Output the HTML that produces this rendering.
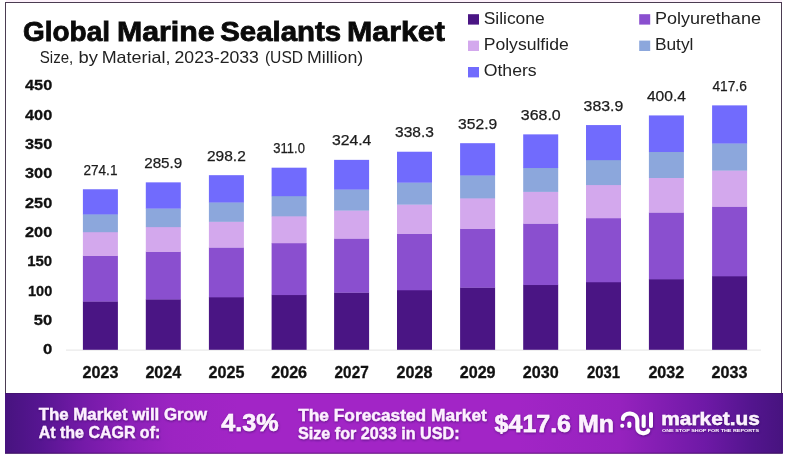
<!DOCTYPE html>
<html><head><meta charset="utf-8"><title>Global Marine Sealants Market</title>
<style>html,body{margin:0;padding:0;background:#fff;}svg{display:block}text{font-family:"Liberation Sans",sans-serif;}</style>
</head><body>
<svg width="786" height="459" viewBox="0 0 786 459">
<defs>
<linearGradient id="fg" x1="0" y1="0" x2="1" y2="0"><stop offset="0" stop-color="#47137f"/><stop offset="0.045" stop-color="#561591"/><stop offset="0.1" stop-color="#741aa8"/><stop offset="0.16" stop-color="#8c20b8"/><stop offset="0.215" stop-color="#9c24c2"/><stop offset="0.3" stop-color="#a225c6"/><stop offset="0.66" stop-color="#a225c6"/><stop offset="0.79" stop-color="#9622be"/><stop offset="0.9" stop-color="#6e19a6"/><stop offset="0.96" stop-color="#53158e"/><stop offset="1" stop-color="#47137f"/></linearGradient>
<filter id="sh" x="-5%" y="-20%" width="110%" height="150%"><feDropShadow dx="0.4" dy="1" stdDeviation="0.8" flood-color="#2a0050" flood-opacity="0.55"/></filter>
<filter id="soft" x="0" y="0" width="100%" height="100%" filterUnits="userSpaceOnUse" color-interpolation-filters="sRGB"><feGaussianBlur stdDeviation="0.42"/></filter>
</defs>
<rect x="0" y="0" width="786" height="459" fill="#ffffff"/>
<g filter="url(#soft)">
<rect x="0" y="0" width="786" height="459" fill="#ffffff"/>
<rect x="6" y="0" width="776" height="2" fill="#fdf1fb"/>
<rect x="5.5" y="2.5" width="776" height="450.5" fill="none" stroke="#4b3c52" stroke-width="1"/>
<g font-size="27" font-weight="700" fill="#0a0a0a" stroke="#0a0a0a" stroke-width="0.8">
<text x="23.0" y="40.6" textLength="87" lengthAdjust="spacingAndGlyphs" >Global</text>
<text x="117" y="40.6" textLength="97.6" lengthAdjust="spacingAndGlyphs" >Marine</text>
<text x="220.2" y="40.6" textLength="121" lengthAdjust="spacingAndGlyphs" >Sealants</text>
<text x="347" y="40.6" textLength="97.8" lengthAdjust="spacingAndGlyphs" >Market</text>
</g>
<g font-size="16.5" fill="#222">
<text x="39.8" y="63.3" textLength="33.5" lengthAdjust="spacingAndGlyphs" >Size,</text>
<text x="78.5" y="63.3" textLength="19.4" lengthAdjust="spacingAndGlyphs" >by</text>
<text x="101.7" y="63.3" textLength="68.7" lengthAdjust="spacingAndGlyphs" >Material,</text>
<text x="174.5" y="63.3" textLength="84.4" lengthAdjust="spacingAndGlyphs" >2023-2033</text>
<text x="264.9" y="63.3" textLength="38.2" lengthAdjust="spacingAndGlyphs" >(USD</text>
<text x="306.9" y="63.3" textLength="56.3" lengthAdjust="spacingAndGlyphs" >Million)</text>
</g>
<g font-size="16" fill="#222">
<rect x="468" y="14.2" width="11" height="10.4" fill="#4a1584"/>
<text x="483.7" y="24.3" textLength="61.0" lengthAdjust="spacingAndGlyphs" >Silicone</text>
<rect x="639.2" y="14.2" width="11" height="10.4" fill="#8a4fcf"/>
<text x="654.9" y="24.3" textLength="106.0" lengthAdjust="spacingAndGlyphs" >Polyurethane</text>
<rect x="468" y="40.6" width="11" height="10.4" fill="#d3a8ed"/>
<text x="483.7" y="49.9" textLength="85.0" lengthAdjust="spacingAndGlyphs" >Polysulfide</text>
<rect x="639.2" y="40.6" width="11" height="10.4" fill="#8ca7dc"/>
<text x="654.9" y="49.9" textLength="38.5" lengthAdjust="spacingAndGlyphs" >Butyl</text>
<rect x="468" y="67" width="11" height="10.4" fill="#716bfd"/>
<text x="483.7" y="76.3" textLength="53.0" lengthAdjust="spacingAndGlyphs" >Others</text>
</g>
<g font-size="15.4" font-weight="700" fill="#111" stroke="#111" stroke-width="0.3">
<text x="42.9" y="354.4" textLength="9.3" lengthAdjust="spacingAndGlyphs" >0</text>
<text x="33.8" y="325.1" textLength="18.4" lengthAdjust="spacingAndGlyphs" >50</text>
<text x="28.0" y="295.7" textLength="24.2" lengthAdjust="spacingAndGlyphs" >100</text>
<text x="27.2" y="266.4" textLength="25.0" lengthAdjust="spacingAndGlyphs" >150</text>
<text x="25.0" y="237.1" textLength="27.2" lengthAdjust="spacingAndGlyphs" >200</text>
<text x="25.0" y="207.8" textLength="27.2" lengthAdjust="spacingAndGlyphs" >250</text>
<text x="25.0" y="178.4" textLength="27.2" lengthAdjust="spacingAndGlyphs" >300</text>
<text x="25.0" y="149.1" textLength="27.2" lengthAdjust="spacingAndGlyphs" >350</text>
<text x="25.0" y="119.8" textLength="27.2" lengthAdjust="spacingAndGlyphs" >400</text>
<text x="25.0" y="90.4" textLength="27.2" lengthAdjust="spacingAndGlyphs" >450</text>
</g>
<line x1="66" y1="350.1" x2="761" y2="350.1" stroke="#e4e4e4" stroke-width="1"/>
<rect x="82.9" y="301.27" width="35.0" height="48.53" fill="#4a1584"/>
<rect x="82.9" y="255.60" width="35.0" height="45.97" fill="#8a4fcf"/>
<rect x="82.9" y="231.88" width="35.0" height="24.02" fill="#d3a8ed"/>
<rect x="82.9" y="214.10" width="35.0" height="18.09" fill="#8ca7dc"/>
<rect x="82.9" y="189.26" width="35.0" height="25.14" fill="#716bfd"/>
<text x="83.4" y="174.8" font-size="15.2" fill="#1c1c1c" stroke="#1c1c1c" stroke-width="0.25" textLength="34.1" lengthAdjust="spacingAndGlyphs">274.1</text>
<text x="82.5" y="378" font-size="15.8" font-weight="700" fill="#111" stroke="#111" stroke-width="0.3" textLength="35.9" lengthAdjust="spacingAndGlyphs">2023</text>
<rect x="145.8" y="299.19" width="35.0" height="50.61" fill="#4a1584"/>
<rect x="145.8" y="251.56" width="35.0" height="47.93" fill="#8a4fcf"/>
<rect x="145.8" y="226.82" width="35.0" height="25.04" fill="#d3a8ed"/>
<rect x="145.8" y="208.27" width="35.0" height="18.85" fill="#8ca7dc"/>
<rect x="145.8" y="182.36" width="35.0" height="26.21" fill="#716bfd"/>
<text x="144.2" y="167.9" font-size="15.2" fill="#1c1c1c" stroke="#1c1c1c" stroke-width="0.25" textLength="38.1" lengthAdjust="spacingAndGlyphs">285.9</text>
<text x="145.4" y="378" font-size="15.8" font-weight="700" fill="#111" stroke="#111" stroke-width="0.3" textLength="35.9" lengthAdjust="spacingAndGlyphs">2024</text>
<rect x="208.9" y="297.03" width="35.0" height="52.77" fill="#4a1584"/>
<rect x="208.9" y="247.34" width="35.0" height="49.98" fill="#8a4fcf"/>
<rect x="208.9" y="221.54" width="35.0" height="26.10" fill="#d3a8ed"/>
<rect x="208.9" y="202.19" width="35.0" height="19.65" fill="#8ca7dc"/>
<rect x="208.9" y="175.17" width="35.0" height="27.32" fill="#716bfd"/>
<text x="207.0" y="160.7" font-size="15.2" fill="#1c1c1c" stroke="#1c1c1c" stroke-width="0.25" textLength="38.8" lengthAdjust="spacingAndGlyphs">298.2</text>
<text x="208.5" y="378" font-size="15.8" font-weight="700" fill="#111" stroke="#111" stroke-width="0.3" textLength="35.9" lengthAdjust="spacingAndGlyphs">2025</text>
<rect x="271.6" y="294.78" width="35.0" height="55.02" fill="#4a1584"/>
<rect x="271.6" y="242.96" width="35.0" height="52.12" fill="#8a4fcf"/>
<rect x="271.6" y="216.05" width="35.0" height="27.21" fill="#d3a8ed"/>
<rect x="271.6" y="195.87" width="35.0" height="20.48" fill="#8ca7dc"/>
<rect x="271.6" y="167.69" width="35.0" height="28.48" fill="#716bfd"/>
<text x="273.3" y="153.2" font-size="15.2" fill="#1c1c1c" stroke="#1c1c1c" stroke-width="0.25" textLength="31.6" lengthAdjust="spacingAndGlyphs">311.0</text>
<text x="271.2" y="378" font-size="15.8" font-weight="700" fill="#111" stroke="#111" stroke-width="0.3" textLength="35.9" lengthAdjust="spacingAndGlyphs">2026</text>
<rect x="334.1" y="292.42" width="35.0" height="57.38" fill="#4a1584"/>
<rect x="334.1" y="238.37" width="35.0" height="54.35" fill="#8a4fcf"/>
<rect x="334.1" y="210.30" width="35.0" height="28.37" fill="#d3a8ed"/>
<rect x="334.1" y="189.25" width="35.0" height="21.35" fill="#8ca7dc"/>
<rect x="334.1" y="159.86" width="35.0" height="29.69" fill="#716bfd"/>
<text x="331.9" y="145.4" font-size="15.2" fill="#1c1c1c" stroke="#1c1c1c" stroke-width="0.25" textLength="39.5" lengthAdjust="spacingAndGlyphs">324.4</text>
<text x="334.6" y="378" font-size="15.8" font-weight="700" fill="#111" stroke="#111" stroke-width="0.3" textLength="34.1" lengthAdjust="spacingAndGlyphs">2027</text>
<rect x="397.0" y="289.97" width="35.0" height="59.83" fill="#4a1584"/>
<rect x="397.0" y="233.61" width="35.0" height="56.66" fill="#8a4fcf"/>
<rect x="397.0" y="204.34" width="35.0" height="29.57" fill="#d3a8ed"/>
<rect x="397.0" y="182.38" width="35.0" height="22.25" fill="#8ca7dc"/>
<rect x="397.0" y="151.73" width="35.0" height="30.95" fill="#716bfd"/>
<text x="395.1" y="137.2" font-size="15.2" fill="#1c1c1c" stroke="#1c1c1c" stroke-width="0.25" textLength="38.8" lengthAdjust="spacingAndGlyphs">338.3</text>
<text x="396.6" y="378" font-size="15.8" font-weight="700" fill="#111" stroke="#111" stroke-width="0.3" textLength="35.9" lengthAdjust="spacingAndGlyphs">2028</text>
<rect x="460.1" y="287.40" width="35.0" height="62.40" fill="#4a1584"/>
<rect x="460.1" y="228.61" width="35.0" height="59.10" fill="#8a4fcf"/>
<rect x="460.1" y="198.07" width="35.0" height="30.83" fill="#d3a8ed"/>
<rect x="460.1" y="175.17" width="35.0" height="23.20" fill="#8ca7dc"/>
<rect x="460.1" y="143.19" width="35.0" height="32.28" fill="#716bfd"/>
<text x="458.1" y="128.7" font-size="15.2" fill="#1c1c1c" stroke="#1c1c1c" stroke-width="0.25" textLength="39.1" lengthAdjust="spacingAndGlyphs">352.9</text>
<text x="459.7" y="378" font-size="15.8" font-weight="700" fill="#111" stroke="#111" stroke-width="0.3" textLength="35.9" lengthAdjust="spacingAndGlyphs">2029</text>
<rect x="523.2" y="284.75" width="35.0" height="65.05" fill="#4a1584"/>
<rect x="523.2" y="223.43" width="35.0" height="61.61" fill="#8a4fcf"/>
<rect x="523.2" y="191.59" width="35.0" height="32.14" fill="#d3a8ed"/>
<rect x="523.2" y="167.71" width="35.0" height="24.18" fill="#8ca7dc"/>
<rect x="523.2" y="134.37" width="35.0" height="33.65" fill="#716bfd"/>
<text x="520.8" y="119.9" font-size="15.2" fill="#1c1c1c" stroke="#1c1c1c" stroke-width="0.25" textLength="39.9" lengthAdjust="spacingAndGlyphs">368.0</text>
<text x="522.8" y="378" font-size="15.8" font-weight="700" fill="#111" stroke="#111" stroke-width="0.3" textLength="35.9" lengthAdjust="spacingAndGlyphs">2030</text>
<rect x="586.0" y="281.95" width="35.0" height="67.85" fill="#4a1584"/>
<rect x="586.0" y="217.99" width="35.0" height="64.26" fill="#8a4fcf"/>
<rect x="586.0" y="184.77" width="35.0" height="33.52" fill="#d3a8ed"/>
<rect x="586.0" y="159.86" width="35.0" height="25.21" fill="#8ca7dc"/>
<rect x="586.0" y="125.07" width="35.0" height="35.09" fill="#716bfd"/>
<text x="583.6" y="110.6" font-size="15.2" fill="#1c1c1c" stroke="#1c1c1c" stroke-width="0.25" textLength="39.7" lengthAdjust="spacingAndGlyphs">383.9</text>
<text x="587.0" y="378" font-size="15.8" font-weight="700" fill="#111" stroke="#111" stroke-width="0.3" textLength="33.1" lengthAdjust="spacingAndGlyphs">2031</text>
<rect x="648.9" y="279.04" width="35.0" height="70.76" fill="#4a1584"/>
<rect x="648.9" y="212.33" width="35.0" height="67.01" fill="#8a4fcf"/>
<rect x="648.9" y="177.69" width="35.0" height="34.94" fill="#d3a8ed"/>
<rect x="648.9" y="151.71" width="35.0" height="26.28" fill="#8ca7dc"/>
<rect x="648.9" y="115.43" width="35.0" height="36.58" fill="#716bfd"/>
<text x="646.9" y="100.9" font-size="15.2" fill="#1c1c1c" stroke="#1c1c1c" stroke-width="0.25" textLength="39.0" lengthAdjust="spacingAndGlyphs">400.4</text>
<text x="648.4" y="378" font-size="15.8" font-weight="700" fill="#111" stroke="#111" stroke-width="0.3" textLength="35.9" lengthAdjust="spacingAndGlyphs">2032</text>
<rect x="712.1" y="276.02" width="35.0" height="73.78" fill="#4a1584"/>
<rect x="712.1" y="206.44" width="35.0" height="69.88" fill="#8a4fcf"/>
<rect x="712.1" y="170.31" width="35.0" height="36.43" fill="#d3a8ed"/>
<rect x="712.1" y="143.21" width="35.0" height="27.40" fill="#8ca7dc"/>
<rect x="712.1" y="105.37" width="35.0" height="38.14" fill="#716bfd"/>
<text x="712.4" y="90.9" font-size="15.2" fill="#1c1c1c" stroke="#1c1c1c" stroke-width="0.25" textLength="34.4" lengthAdjust="spacingAndGlyphs">417.6</text>
<text x="711.6" y="378" font-size="15.8" font-weight="700" fill="#111" stroke="#111" stroke-width="0.3" textLength="35.9" lengthAdjust="spacingAndGlyphs">2033</text>
<rect x="5" y="393" width="778" height="60.6" fill="url(#fg)"/>
<rect x="5" y="393" width="778" height="1" fill="#3a1050" opacity="0.35"/>
<rect x="5" y="452.6" width="778" height="1" fill="#3a1050" opacity="0.45"/>
<g fill="#fdf0ff" font-weight="700" filter="url(#sh)">
<g font-size="16.5" stroke="#fdf0ff" stroke-width="0.35">
<text x="38.7" y="419.5" textLength="168.3" lengthAdjust="spacingAndGlyphs" >The Market will Grow</text>
<text x="38.7" y="438.2" textLength="121.6" lengthAdjust="spacingAndGlyphs" >At the CAGR of:</text>
<text x="298.2" y="420.9" textLength="188.6" lengthAdjust="spacingAndGlyphs" >The Forecasted Market</text>
<text x="298.0" y="439.4" textLength="161.6" lengthAdjust="spacingAndGlyphs" >Size for 2033 in USD:</text>
</g>
<g font-size="23.2" stroke="#fff" stroke-width="0.5">
<text x="221.2" y="430.9" textLength="57.3" lengthAdjust="spacingAndGlyphs" >4.3%</text>
<text x="494.6" y="431.6" textLength="119.4" lengthAdjust="spacingAndGlyphs" >$417.6 Mn</text>
</g>
<text x="661.3" y="425.4" textLength="98.6" lengthAdjust="spacingAndGlyphs" font-size="18" stroke="#fff" stroke-width="0.4">market.us</text>
<text x="662" y="431.6" textLength="97" lengthAdjust="spacingAndGlyphs" font-size="3.6">ONE STOP SHOP FOR THE REPORTS</text>
<g fill="none" stroke="#fff" stroke-width="4" stroke-linecap="round">
<path d="M622.9 419 C622.9 411.5 637.3 411.5 637.3 420.5 V427 C637.3 434.5 646.5 434.5 648.2 430.6"/>
<path d="M629.3 423.4 V425.9"/>
<path d="M643.7 416.5 V425.9"/>
<path d="M651 413.9 V425.9"/>
<path d="M622.2 425.7 V425.8"/>
</g>
</g>
</g>
</svg>
</body></html>
